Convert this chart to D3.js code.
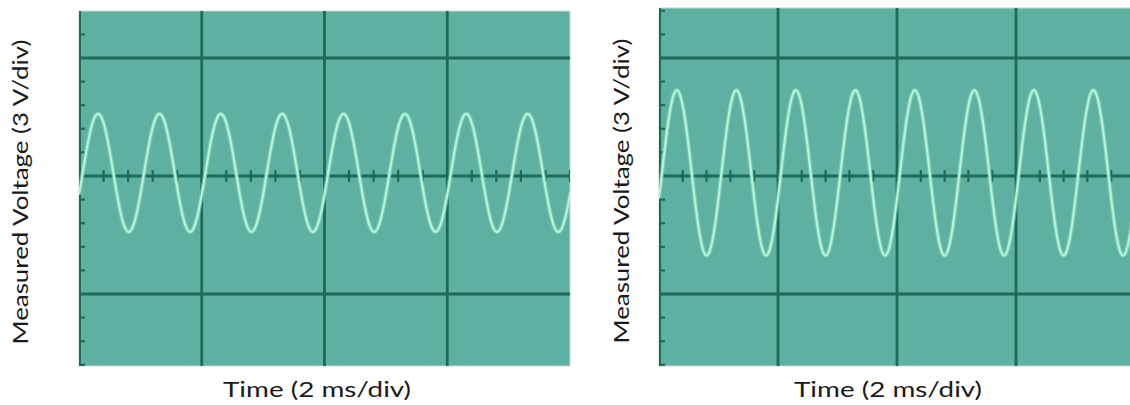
<!DOCTYPE html>
<html>
<head>
<meta charset="utf-8">
<script src="https://cdn.jsdelivr.net/npm/d3@7"></script>
<style>
  html, body { margin: 0; padding: 0; background: #fff; }
  #scope { width: 1130px; height: 405px; }
  text { font-family: Lato, "Open Sans", sans-serif; fill: #1a1a1a; }
</style>
</head>
<body>
<div id="scope"></div>
<script>
// two scope captures, same timebase, different amplitude
const panelNames = ["left", "right"];
const voltsPerDiv = 3;
const msPerDiv = 2;
const amplitudeV = [1.5, 2.1];          // peak volts
const frequencyHz = [1000, 1000];       // 2 cycles per division
const riseCrossMs = [0.06, 0.05];       // first rising zero crossing
const dcOffsetV = [0.08, 0.08];
const xLabel = "Time (2 ms/div)";
const yLabel = "Measured Voltage (3 V/div)";

(() => {
    const W = 1130, H = 405;
    const svg = d3.select("#scope").append("svg").attr("width", W).attr("height", H);

    // screen boxes for each capture
    const boxes = [
        { x0: 79, x1: 570, top: 11, bottom: 366, zero: 176, divPx: 118, labelX: 20, labelY: 192, timeX: 317 },
        { x0: 659, x1: 1135, top: 8, bottom: 366, zero: 176, divPx: 118, labelX: 621, labelY: 191, timeX: 888 }
    ];

    panelNames.forEach((name, i) => {
        const b = boxes[i];
        const vTop = (b.zero - b.top) / b.divPx * voltsPerDiv;
        const vBot = -(b.bottom - b.zero) / b.divPx * voltsPerDiv;
        const x = d3.scaleLinear().domain([0, 4 * msPerDiv]).range([b.x0, b.x1]);
        const y = d3.scaleLinear().domain([vBot, vTop]).range([b.bottom, b.top]);

        const g = svg.append("g").attr("class", name);
        const clipId = "clip-" + name;
        g.append("clipPath").attr("id", clipId)
            .append("rect").attr("x", b.x0).attr("y", b.top)
            .attr("width", b.x1 - b.x0).attr("height", b.bottom - b.top);

        g.append("rect")
            .attr("x", b.x0).attr("y", b.top)
            .attr("width", b.x1 - b.x0).attr("height", b.bottom - b.top)
            .attr("fill", "#5eb1a0").attr("stroke", "#c9d9d5").attr("stroke-width", 1);

        const inner = g.append("g").attr("clip-path", `url(#${clipId})`);
        const grid = "#1d6a59";

        // major divisions
        const vMajors = d3.range(1, 4).map(k => k * msPerDiv);
        inner.selectAll(".vgrid").data(vMajors).join("line")
            .attr("x1", d => x(d)).attr("x2", d => x(d))
            .attr("y1", b.top).attr("y2", b.bottom)
            .attr("stroke", grid).attr("stroke-width", 2.8);
        const hMajors = [-voltsPerDiv, voltsPerDiv];
        inner.selectAll(".hgrid").data(hMajors).join("line")
            .attr("x1", b.x0).attr("x2", b.x1)
            .attr("y1", d => y(d)).attr("y2", d => y(d))
            .attr("stroke", grid).attr("stroke-width", 2.8);

        // centre axis with minor ticks
        inner.append("line")
            .attr("x1", b.x0).attr("x2", b.x1).attr("y1", y(0)).attr("y2", y(0))
            .attr("stroke", grid).attr("stroke-width", 2.8);
        const tMinor = d3.range(0, 4 * msPerDiv + 1e-9, msPerDiv / 5);
        inner.selectAll(".tminor").data(tMinor).join("line")
            .attr("x1", d => x(d)).attr("x2", d => x(d))
            .attr("y1", y(0) - 6).attr("y2", y(0) + 6)
            .attr("stroke", grid).attr("stroke-width", 2.2);

        // minor ticks on the left edge
        const vMinor = d3.range(Math.ceil(vBot / (voltsPerDiv / 5)), Math.floor(vTop / (voltsPerDiv / 5)) + 1)
            .map(k => k * voltsPerDiv / 5);
        inner.selectAll(".vminor").data(vMinor).join("line")
            .attr("x1", b.x0).attr("x2", b.x0 + 6)
            .attr("y1", d => y(d)).attr("y2", d => y(d))
            .attr("stroke", grid).attr("stroke-width", 2.2);
        inner.append("line")
            .attr("x1", b.x0 + 1).attr("x2", b.x0 + 1).attr("y1", b.top).attr("y2", b.bottom)
            .attr("stroke", grid).attr("stroke-width", 2);

        // trace
        const ts = d3.range(0, 4 * msPerDiv + 0.005, 0.005);
        const wave = t => dcOffsetV[i] + amplitudeV[i] *
            Math.sin(2 * Math.PI * frequencyHz[i] * (t - riseCrossMs[i]) / 1000);
        const line = d3.line().x(t => x(t)).y(t => y(wave(t)));
        inner.append("path").datum(ts).attr("d", line)
            .attr("fill", "none").attr("stroke", "#8fdcc0").attr("stroke-opacity", 0.5)
            .attr("stroke-width", 4.5);
        inner.append("path").datum(ts).attr("d", line)
            .attr("fill", "none").attr("stroke", "#b4f3db").attr("stroke-width", 2.2);

        // labels
        svg.append("text")
            .attr("transform", `translate(${b.labelX + 8},${b.labelY}) rotate(-90)`)
            .attr("text-anchor", "middle").attr("font-size", 21)
            .attr("textLength", 305).attr("lengthAdjust", "spacingAndGlyphs")
            .text(yLabel);
        svg.append("text")
            .attr("x", b.timeX).attr("y", 397)
            .attr("text-anchor", "middle").attr("font-size", 21)
            .attr("textLength", 188).attr("lengthAdjust", "spacingAndGlyphs")
            .text(xLabel);
    });
})();
</script>
</body>
</html>
